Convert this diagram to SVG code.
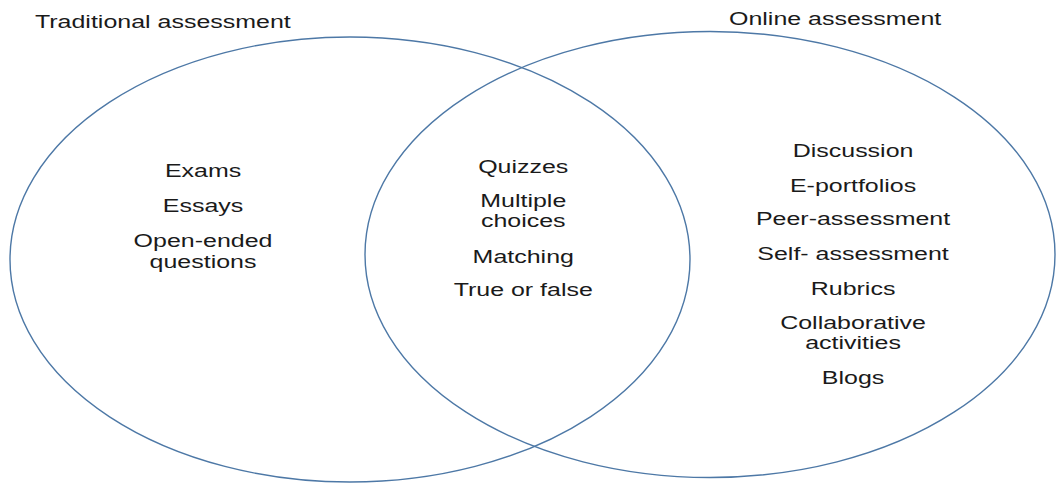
<svg xmlns="http://www.w3.org/2000/svg" width="1057" height="483" viewBox="0 0 1057 483">
<style>
.set{fill:none;stroke:#4d78a6;stroke-width:1.4}
.t{font-family:"Liberation Sans",Arial,sans-serif;font-size:18.5px;fill:#1a1a1a}
.c{text-anchor:middle}
</style>
<rect width="1057" height="483" fill="#fff"/>
<g id="traditional">
<ellipse class="set" cx="350" cy="259.5" rx="340" ry="222.5"/>
<g transform="scale(1.35 1)">
<text class="t" x="25.9" y="28">Traditional assessment</text>
<text class="t c" x="150.4" y="177">Exams</text>
<text class="t c" x="150.4" y="212">Essays</text>
<text class="t c" x="150.4" y="247">Open-ended</text>
<text class="t c" x="150.4" y="268">questions</text>
</g>
</g>
<g id="online">
<ellipse class="set" cx="710" cy="254.5" rx="345" ry="223"/>
<g transform="scale(1.35 1)">
<text class="t" x="540" y="25">Online assessment</text>
<text class="t c" x="631.9" y="157">Discussion</text>
<text class="t c" x="631.9" y="192">E-portfolios</text>
<text class="t c" x="631.9" y="225">Peer-assessment</text>
<text class="t c" x="631.9" y="260">Self- assessment</text>
<text class="t c" x="631.9" y="295">Rubrics</text>
<text class="t c" x="631.9" y="329">Collaborative</text>
<text class="t c" x="631.9" y="349">activities</text>
<text class="t c" x="631.9" y="384">Blogs</text>
</g>
</g>
<g id="both">
<g transform="scale(1.35 1)">
<text class="t c" x="387.6" y="173">Quizzes</text>
<text class="t c" x="387.6" y="207">Multiple</text>
<text class="t c" x="387.6" y="227">choices</text>
<text class="t c" x="387.6" y="263">Matching</text>
<text class="t c" x="387.6" y="296">True or false</text>
</g>
</g>
<g id="connectors"></g>
</svg>
